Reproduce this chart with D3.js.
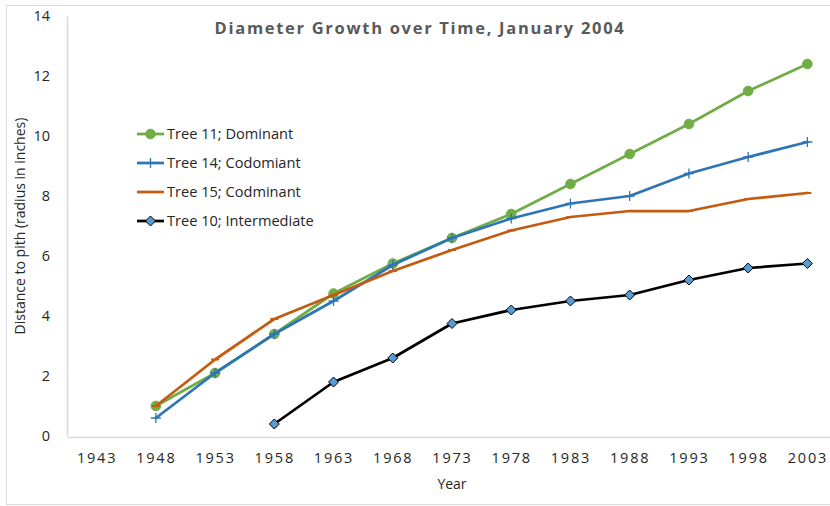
<!DOCTYPE html>
<html>
<head>
<meta charset="utf-8">
<script src="https://cdn.jsdelivr.net/npm/d3@7"></script>
<style>
  html, body { margin: 0; padding: 0; background: #fff; }
  svg { display: block; }
  text { font-family: "Open Sans", "Noto Sans", sans-serif; }
</style>
</head>
<body>
<svg id="chart" width="830" height="506"></svg>
<script>
// Survey years on the category axis
const years = [1943, 1948, 1953, 1958, 1963, 1968, 1973, 1978, 1983, 1988, 1993, 1998, 2003];

// Distance to pith (radius, inches) per tree; null = tree not yet present
const tree11 = [null, 1.0, 2.1, 3.4, 4.75, 5.75, 6.6, 7.4, 8.4, 9.4, 10.4, 11.5, 12.4];
const tree14 = [null, 0.6, 2.1, 3.4, 4.5, 5.7, 6.6, 7.25, 7.75, 8.0, 8.75, 9.3, 9.8];
const tree15 = [null, 1.0, 2.55, 3.9, 4.7, 5.5, 6.2, 6.85, 7.3, 7.5, 7.5, 7.9, 8.1];
const tree10 = [null, null, null, 0.4, 1.8, 2.6, 3.75, 4.2, 4.5, 4.7, 5.2, 5.6, 5.75];

const seriesNames = ["Tree 11; Dominant", "Tree 14; Codomiant", "Tree 15; Codminant", "Tree 10; Intermediate"];
const yTicks = [0, 2, 4, 6, 8, 10, 12, 14];

const series = [
  { name: seriesNames[0], values: tree11, color: "#70ad47", marker: "circle" },
  { name: seriesNames[1], values: tree14, color: "#2e75b6", marker: "plus" },
  { name: seriesNames[2], values: tree15, color: "#c55a11", marker: "dash" },
  { name: seriesNames[3], values: tree10, color: "#000000", marker: "diamond" }
];

const svg = d3.select("#chart");
const W = 830, H = 506;
const plot = { left: 67, right: 837, top: 16, bottom: 436 };

// Outer chart border
svg.append("rect")
  .attr("x", 6.5).attr("y", 5.5)
  .attr("width", W).attr("height", H - 7)
  .attr("fill", "#fff").attr("stroke", "#d9d9d9").attr("stroke-width", 1);

const x = d3.scalePoint().domain(years).range([plot.left, plot.right]).padding(0.5);
const y = d3.scaleLinear().domain([0, 14]).range([plot.bottom, plot.top]);

// Y axis
const yAxis = svg.append("g")
  .attr("transform", `translate(${plot.left},0)`)
  .call(d3.axisLeft(y).tickValues(yTicks).tickSize(0).tickPadding(17));
yAxis.select(".domain").attr("stroke", "#d9d9d9").attr("stroke-width", 1.5);
yAxis.selectAll("text").attr("font-size", 14.5).attr("fill", "#262626");

// X axis
const xAxis = svg.append("g")
  .attr("transform", `translate(0,${plot.bottom + 1})`)
  .call(d3.axisBottom(x).tickSize(0).tickPadding(16).tickFormat(d3.format("d")));
xAxis.select(".domain").attr("stroke", "#d9d9d9").attr("stroke-width", 1.5);
xAxis.selectAll("text").attr("font-size", 14.5).attr("fill", "#262626")
  .attr("letter-spacing", "1.8px");

// Axis titles
svg.append("text")
  .attr("transform", `translate(25,${(plot.top + plot.bottom) / 2}) rotate(-90)`)
  .attr("text-anchor", "middle")
  .attr("font-size", 14).attr("fill", "#262626")
  .text("Distance to pith (radius in inches)");

svg.append("text")
  .attr("x", x(1973)).attr("y", 489)
  .attr("text-anchor", "middle")
  .attr("font-size", 14).attr("fill", "#262626")
  .text("Year");

// Title
svg.append("text")
  .attr("x", 420).attr("y", 34)
  .attr("text-anchor", "middle")
  .attr("font-size", 16.5).attr("font-weight", "bold").attr("fill", "#595959")
  .attr("letter-spacing", "1.7px")
  .text("Diameter Growth over Time, January 2004");

// Marker drawing
function drawMarker(g, type, color, cx, cy) {
  if (type === "circle") {
    g.append("circle").attr("cx", cx).attr("cy", cy).attr("r", 4.8)
      .attr("fill", color).attr("stroke", color);
  } else if (type === "plus") {
    g.append("path")
      .attr("d", `M${cx - 5},${cy}H${cx + 5}M${cx},${cy - 5}V${cy + 5}`)
      .attr("stroke", color).attr("stroke-width", 1.3).attr("fill", "none");
  } else if (type === "dash") {
    g.append("path")
      .attr("d", `M${cx - 4},${cy}H${cx + 4}`)
      .attr("stroke", color).attr("stroke-width", 2).attr("fill", "none");
  } else if (type === "diamond") {
    g.append("path")
      .attr("d", `M${cx},${cy - 5}L${cx + 5},${cy}L${cx},${cy + 5}L${cx - 5},${cy}Z`)
      .attr("fill", "#5b9bd5").attr("stroke", "#000").attr("stroke-width", 1);
  }
}

const line = d3.line()
  .defined(d => d.v !== null)
  .x(d => x(d.year))
  .y(d => y(d.v));

const marks = svg.append("g");
series.forEach(s => {
  const pts = years.map((yr, i) => ({ year: yr, v: s.values[i] }));
  const g = marks.append("g");
  g.append("path")
    .datum(pts)
    .attr("d", line)
    .attr("fill", "none")
    .attr("stroke", s.color)
    .attr("stroke-width", 2.75)
    .attr("stroke-linejoin", "round")
    .attr("stroke-linecap", "round");
  pts.filter(d => d.v !== null).forEach(d => drawMarker(g, s.marker, s.color, x(d.year), y(d.v)));
});

// Legend
const legend = svg.append("g");
series.forEach((s, i) => {
  const ly = 134 + i * 29;
  const g = legend.append("g");
  g.append("line")
    .attr("x1", 137).attr("x2", 164).attr("y1", ly).attr("y2", ly)
    .attr("stroke", s.color).attr("stroke-width", 2.75);
  drawMarker(g, s.marker, s.color, 150.5, ly);
  g.append("text")
    .attr("x", 167).attr("y", ly + 5)
    .attr("font-size", 14.6).attr("fill", "#262626")
    .text(s.name);
});
</script>
</body>
</html>
